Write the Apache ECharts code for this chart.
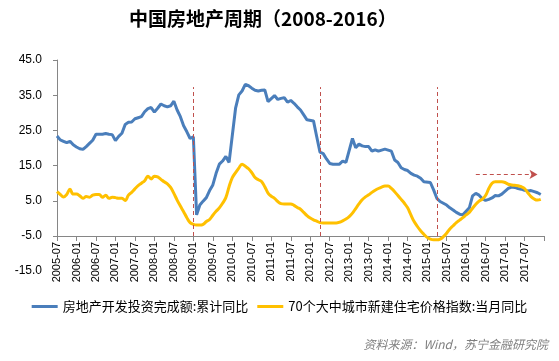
<!DOCTYPE html>
<html><head><meta charset="utf-8">
<script src="https://cdn.jsdelivr.net/npm/echarts@6/dist/echarts.min.js"></script>
<style>html,body{margin:0;padding:0;background:#fff}#c{width:559px;height:361px}</style>
</head><body><div id="c"></div>
<script>
// Monthly categories 2005-07 .. 2018-01
const months = [];
for (let y = 2005, m = 7; y * 100 + m <= 201801; ) {
  months.push(y + '-' + String(m).padStart(2, '0'));
  m++; if (m > 12) { m = 1; y++; }
}

// 房地产开发投资完成额:累计同比 (%), 2005-07 .. 2017-12 (null = January, not published)
const investYoY = [
  23.4,22.3,21.9,21.5,21.9,20.9,
  20.3,19.8,19.6,20.4,21.3,22.2,23.9,23.9,23.9,24.1,23.9,23.8,
  22.1,23.3,24.2,26.7,27.3,27.4,28.3,28.6,28.9,30.3,31.2,31.5,
  30.2,31.3,32.5,32.0,31.7,32.0,33.3,30.8,28.9,26.3,24.6,22.7,
  23.2,1.0,3.8,4.9,5.9,7.9,9.5,12.8,15.4,16.3,17.6,15.9,
  null,31.3,35.1,36.2,38.1,37.7,37.0,36.4,36.2,36.4,36.5,33.2,
  null,34.9,33.8,34.1,34.3,33.0,33.5,32.7,31.7,30.8,29.4,28.0,
  null,27.7,23.2,18.8,18.4,16.9,15.6,15.4,15.4,15.4,16.3,15.9,
  null,22.7,20.1,21.1,20.6,20.4,20.4,19.1,19.5,19.1,19.4,19.7,
  null,19.1,16.6,15.9,14.4,13.9,13.6,12.8,12.3,12.0,11.4,10.4,
  null,10.2,8.1,5.7,4.8,4.3,3.8,3.0,2.4,1.7,1.2,1.0,
  null,3.0,6.4,7.1,6.6,5.6,5.1,5.4,5.8,6.5,6.4,6.9,
  null,8.5,8.9,8.8,8.5,8.3,8.0,7.8,7.9,7.6,7.3,6.8
];

// 70个大中城市新建住宅价格指数:当月同比 (%), 2005-07 .. 2017-12
const priceYoY = [
  7.6,6.8,6.1,6.8,8.3,6.9,
  6.9,6.4,5.7,6.2,6.0,6.6,6.8,6.8,6.0,6.6,5.7,6.0,
  5.9,5.7,5.7,5.1,6.6,7.4,8.4,9.3,10.0,10.7,12.0,11.2,
  12.0,11.8,11.1,10.4,9.8,8.8,7.1,5.2,3.5,1.9,0.2,-1.2,
  -1.7,-1.9,-1.9,-1.7,-0.9,-0.3,0.9,2.0,3.0,4.3,5.9,9.0,
  11.6,13.0,14.3,15.4,14.8,14.1,13.0,11.6,11.0,10.5,9.0,7.2,
  6.3,5.7,4.8,4.2,4.1,4.1,4.1,3.7,3.1,2.6,1.7,0.8,
  0.1,-0.4,-0.8,-1.2,-1.3,-1.3,-1.3,-1.3,-1.3,-1.1,-0.7,-0.2,
  0.5,1.5,2.8,4.1,5.3,6.1,6.7,7.4,8.0,8.5,8.9,9.2,
  9.2,8.5,7.6,6.5,5.4,4.3,3.0,1.0,-0.9,-2.3,-3.5,-4.5,
  -5.4,-5.9,-6.1,-6.1,-5.9,-5.2,-4.2,-3.0,-2.1,-1.2,-0.5,0.2,
  1.0,1.7,2.9,4.0,4.9,5.5,6.5,8.5,10.0,10.4,10.4,10.4,
  10.2,9.7,9.5,9.4,9.3,9.0,8.5,7.3,6.2,5.5,5.2,5.4
];

const seriesNames = ['房地产开发投资完成额:累计同比', '70个大中城市新建住宅价格指数:当月同比'];
const cycleMarks = ['2009-01', '2012-04', '2015-04'];
const cycleLineRange = [-5, 37.3];
const arrowFrom = '2016-04', arrowTo = '2017-11', arrowLevel = 12.5;
const yTickMin = -5, yTickMax = 45, yTickStep = 10, yLowLabel = -15;

const axisGray = '#868686';
const chart = echarts.init(document.getElementById('c'), null, {renderer: 'canvas'});
chart.setOption({
  animation: false,
  backgroundColor: '#fff',
  title: [
    {text: '中国房地产周期（2008-2016）', left: 129, top: 9, padding: 0,
     textStyle: {fontSize: 19, fontWeight: 'bold', color: '#000', fontFamily: 'Noto Sans CJK SC'}},
    {text: '资料来源：Wind，苏宁金融研究院', right: 11, top: 338, padding: 0,
     textStyle: {fontSize: 12, fontWeight: 'normal', fontStyle: 'italic', color: '#7f7f7f', fontFamily: 'Noto Sans CJK SC'}}
  ],
  legend: {
    data: seriesNames, left: 'center', top: 295, icon: 'rect', itemWidth: 26, itemHeight: 3, itemGap: 9,
    textStyle: {fontSize: 13, color: '#000', fontFamily: 'Noto Sans CJK SC'}
  },
  grid: [
    {left: 57, right: 15, top: 60, bottom: 125, containLabel: false, outerBoundsMode: 'none'},
    {left: 57, right: 15, top: 236, bottom: 90, containLabel: false, outerBoundsMode: 'none'}
  ],
  xAxis: [
    {type: 'category', gridIndex: 0, data: months, boundaryGap: false,
     axisLine: {onZero: false, lineStyle: {color: axisGray, width: 1}},
     axisTick: {show: true, interval: 5, length: 5, lineStyle: {color: axisGray}},
     axisLabel: {interval: (i) => i % 6 === 0 && i < 150, rotate: 90, fontSize: 11, color: '#000',
                 margin: 6, fontFamily: 'Liberation Sans'},
     splitLine: {show: false}},
    {type: 'category', gridIndex: 1, data: months, boundaryGap: false, show: false}
  ],
  yAxis: [
    {type: 'value', gridIndex: 0, min: yTickMin, max: yTickMax, interval: yTickStep,
     axisLine: {show: true, lineStyle: {color: axisGray, width: 1}},
     axisTick: {show: true, length: 4, lineStyle: {color: axisGray}},
     splitLine: {show: false},
     axisLabel: {formatter: (v) => v.toFixed(1), fontSize: 12, color: '#000', margin: 15, fontFamily: 'Liberation Sans'}},
    {type: 'value', gridIndex: 1, min: yLowLabel, max: yTickMin, interval: yTickStep,
     axisLine: {show: false}, axisTick: {show: false}, splitLine: {show: false},
     axisLabel: {formatter: (v) => v === yLowLabel ? v.toFixed(1) : '', fontSize: 12, color: '#000', margin: 15, fontFamily: 'Liberation Sans'}}
  ],
  series: [
    {name: seriesNames[0], type: 'line', xAxisIndex: 0, yAxisIndex: 0, data: investYoY,
     connectNulls: true, showSymbol: false, symbol: 'none', clip: false,
     lineStyle: {width: 3, color: '#4A7EBB'}, itemStyle: {color: '#4A7EBB'},
     markLine: {
       silent: true, symbol: 'none', label: {show: false},
       lineStyle: {color: '#C0504D', type: [4, 3], width: 1},
       data: cycleMarks.map(c => [{coord: [c, cycleLineRange[0]]}, {coord: [c, cycleLineRange[1]]}]).concat([
         [{coord: [arrowFrom, arrowLevel], symbol: 'none'},
          {coord: [arrowTo, arrowLevel], symbol: 'arrow', symbolSize: [7, 8]}]
       ])
     }},
    {name: seriesNames[1], type: 'line', xAxisIndex: 0, yAxisIndex: 0, data: priceYoY,
     smooth: 0.4, showSymbol: false, symbol: 'none', clip: false,
     lineStyle: {width: 3, color: '#FFC000'}, itemStyle: {color: '#FFC000'}}
  ]
});
</script></body></html>
